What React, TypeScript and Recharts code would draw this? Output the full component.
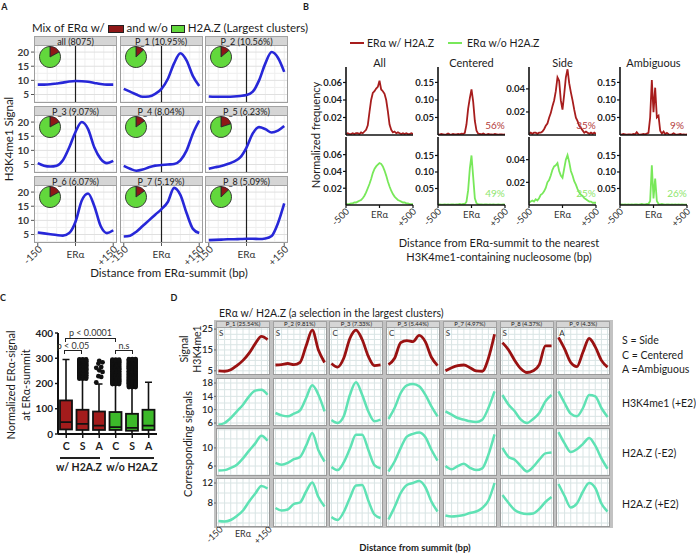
import React from "react";
import {
  LineChart, Line, XAxis, YAxis, CartesianGrid, ReferenceLine,
  PieChart, Pie, ComposedChart, Bar, ScatterChart, Scatter,
} from "recharts";

const FONT = "Lato, 'Open Sans', sans-serif";
const INK = "#1c1c1c";

// ---------- panel A : H3K4me1 profiles per cluster ----------
const facetX = [-150, -125, -100, -75, -50, -25, 0, 25, 50, 75, 100, 125, 150];
const aTitles = ["all (8075)", "P_1 (10.95%)", "P_2 (10.56%)", "P_3 (9.07%)", "P_4 (8.04%)", "P_5 (6.23%)", "P_6 (6.07%)", "P_7 (5.19%)", "P_8 (5.09%)"];
const aRedShare = [0.17, 0.13, 0.14, 0.17, 0.15, 0.2, 0.17, 0.15, 0.13];
const aCurves = [
  [8.5, 8.5, 8.6, 8.9, 9.2, 9.6, 9.8, 9.7, 9.5, 9.1, 8.7, 8.5, 8.5],
  [7, 6, 5, 4.2, 4.3, 5.2, 7, 10.5, 16, 19.6, 17, 11.5, 8],
  [4.3, 4.2, 4.2, 4.2, 4.3, 4.5, 4.8, 6, 10, 16, 20, 18, 13],
  [5.5, 4.6, 4.3, 4.6, 6.5, 11, 16.5, 20, 17.5, 11, 7, 5.5, 6.3],
  [4.5, 3.5, 2.8, 3.2, 4, 4.6, 4.8, 5, 5.2, 6.5, 10, 16, 20.5],
  [3.5, 4, 4.5, 5.2, 6, 7.5, 11, 16, 18.2, 17.5, 16.3, 17, 18.6],
  [5.7, 5.4, 5.1, 4.8, 4.6, 5.5, 9.5, 17, 19.5, 15, 8, 5.5, 6.5],
  [4.3, 4.6, 6, 8, 10, 12, 14, 16.5, 21.5, 19, 12.5, 7, 5.5],
  [3.0, 3.1, 3.2, 3.3, 3.3, 3.4, 3.5, 3.5, 3.4, 3.6, 4.5, 9, 16],
];
const aXTicks = [-150, 0, 150];
const aXTickText = ["-150", "ERα", "+150"];
const aYTicks = [5, 10, 15, 20];
const aGridYMinor = [2.5, 7.5, 12.5, 17.5, 22.5];
const aGridX = [-150, -112.5, -75, -37.5, 0, 37.5, 75, 112.5, 150];

// ---------- panel B : distance histograms ----------
const bX = [-500, -475, -450, -425, -400, -375, -350, -325, -300, -275, -250, -225, -200, -175, -150, -125, -100, -75, -50, -25, 0,
  25, 50, 75, 100, 125, 150, 175, 200, 225, 250, 275, 300, 325, 350, 375, 400, 425, 450, 475, 500];
const bTitles = ["All", "Centered", "Side", "Ambiguous"];
const allRed = [0.001, 0.002, 0.001, 0.001, 0.002, 0.001, 0.002, 0.002, 0.001, 0.003, 0.002, 0.004, 0.006, 0.011, 0.026, 0.04, 0.048, 0.05, 0.053, 0.055, 0.062,
  0.052, 0.05, 0.047, 0.04, 0.027, 0.012, 0.006, 0.003, 0.004, 0.002, 0.003, 0.002, 0.001, 0.002, 0.001, 0.002, 0.001, 0.001, 0.002, 0.001];
const allGreen = [0.001, 0.001, 0.001, 0.002, 0.002, 0.003, 0.003, 0.004, 0.005, 0.006, 0.008, 0.011, 0.015, 0.02, 0.025, 0.031, 0.038, 0.043, 0.046, 0.048, 0.05,
  0.049, 0.046, 0.041, 0.035, 0.028, 0.022, 0.017, 0.013, 0.01, 0.008, 0.006, 0.005, 0.004, 0.003, 0.003, 0.002, 0.002, 0.001, 0.001, 0.001];
const cenRed = [0.002, 0.001, 0.003, 0.002, 0.001, 0.002, 0.004, 0.002, 0.001, 0.003, 0.002, 0.002, 0.003, 0.002, 0.004, 0.003, 0.006, 0.03, 0.075, 0.105, 0.13,
  0.095, 0.04, 0.012, 0.004, 0.003, 0.002, 0.004, 0.002, 0.001, 0.003, 0.002, 0.002, 0.001, 0.003, 0.002, 0.001, 0.002, 0.002, 0.001, 0.002];
const cenGreen = [0.001, 0.002, 0.001, 0.001, 0.002, 0.001, 0.002, 0.001, 0.002, 0.002, 0.001, 0.002, 0.002, 0.003, 0.002, 0.003, 0.003, 0.01, 0.045, 0.11, 0.15,
  0.085, 0.02, 0.005, 0.003, 0.002, 0.002, 0.001, 0.002, 0.002, 0.001, 0.002, 0.001, 0.002, 0.001, 0.001, 0.002, 0.001, 0.001, 0.002, 0.001];
const sideRed = [0.001, 0.002, 0.001, 0.002, 0.002, 0.001, 0.002, 0.002, 0.003, 0.005, 0.008, 0.01, 0.015, 0.019, 0.025, 0.03, 0.038, 0.05, 0.047, 0.03, 0.022,
  0.035, 0.05, 0.057, 0.045, 0.037, 0.03, 0.022, 0.015, 0.012, 0.008, 0.006, 0.004, 0.002, 0.003, 0.002, 0.001, 0.002, 0.001, 0.002, 0.001];
const sideGreen = [0.002, 0.003, 0.004, 0.003, 0.005, 0.004, 0.006, 0.009, 0.01, 0.012, 0.015, 0.02, 0.022, 0.026, 0.031, 0.034, 0.035, 0.037, 0.03, 0.026, 0.024,
  0.032, 0.04, 0.044, 0.038, 0.03, 0.026, 0.021, 0.018, 0.014, 0.011, 0.009, 0.008, 0.006, 0.005, 0.004, 0.003, 0.003, 0.002, 0.002, 0.002];
const ambRed = [0.002, 0.001, 0.003, 0.002, 0.001, 0.002, 0.002, 0.001, 0.003, 0.002, 0.008, 0.002, 0.001, 0.002, 0.003, 0.002, 0.004, 0.006, 0.05, 0.157, 0.065,
  0.135, 0.05, 0.055, 0.012, 0.004, 0.01, 0.002, 0.006, 0.002, 0.001, 0.002, 0.005, 0.002, 0.001, 0.002, 0.003, 0.001, 0.002, 0.001, 0.002];
const ambGreen = [0.001, 0.002, 0.001, 0.002, 0.001, 0.002, 0.001, 0.002, 0.001, 0.002, 0.002, 0.001, 0.002, 0.003, 0.002, 0.002, 0.003, 0.003, 0.012, 0.12, 0.02,
  0.08, 0.012, 0.003, 0.002, 0.003, 0.002, 0.001, 0.002, 0.002, 0.001, 0.002, 0.001, 0.002, 0.001, 0.002, 0.001, 0.002, 0.001, 0.001, 0.001];
const bSeries = [[allRed, cenRed, sideRed, ambRed], [allGreen, cenGreen, sideGreen, ambGreen]];
const bYMax = [[0.0777, 0.194, 0.059, 0.194], [0.081, 0.206, 0.06, 0.206]];
const bYTicks = [[0.02, 0.04, 0.06], [0.05, 0.1, 0.15], [0.02, 0.04], [0.05, 0.1, 0.15]];
const bXTicks = [-500, 0, 500];
const bXTickText = ["-500", "ERα", "+500"];
const bShares = [["", "56%", "35%", "9%"], ["", "49%", "25%", "26%"]];

// ---------- panel C : ERα signal box plots ----------
const cCats = ["C", "S", "A", "C", "S", "A"];
const cLo = [0, 0, 0, 0, 0, 0];
const cQ1 = [18, 16, 16, 16, 13, 16];
const cMed = [47, 40, 33, 27, 24, 33];
const cQ3 = [133, 96, 89, 87, 80, 96];
const cHi = [295, 218, 198, 195, 182, 205];
const sRedOut = [219, 223, 226, 231, 233, 238, 241, 244, 247, 251, 254, 256, 260, 263, 267, 270, 272, 276, 279, 282, 285, 288, 290, 293, 295];
const aRedOut = [204, 226, 229, 246, 252, 262, 265, 279, 284, 290];
const cGreenOut = [198, 202, 206, 209, 213, 217, 220, 224, 228, 231, 235, 238, 242, 246, 249, 253, 256, 260, 263, 267, 270, 274, 277, 281, 284, 288, 291, 294];
const sGreenOut = [186, 190, 194, 198, 201, 205, 209, 213, 216, 220, 224, 227, 231, 235, 238, 242, 246, 249, 253, 257, 260, 264, 268, 271, 275, 279, 282, 286, 290, 293, 296];
const cOutliers = [[], sRedOut, aRedOut, cGreenOut, sGreenOut, []];
const cDense = [false, true, false, true, true, false];
const cYTicks = [0, 100, 200, 300, 400];

// ---------- panel D : selected clusters ----------
const dX = [-150, -112.5, -75, -37.5, 0, 37.5, 75, 112.5, 150];
const dTitles = ["P_1 (25.54%)", "P_2 (9.81%)", "P_3 (7.33%)", "P_5 (5.44%)", "P_7 (4.97%)", "P_8 (4.37%)", "P_9 (4.3%)"];
const dClass = ["S", "S", "C", "C", "S", "S", "A"];
const dRowNames = ["", "H3K4me1 (+E2)", "H2A.Z (-E2)", "H2A.Z (+E2)"];
const dCurves = [
  [
    [5, 4.8, 5.5, 7.5, 10, 13.5, 18, 21.5, 20],
    [7.8, 8, 8.5, 8, 9, 17, 24.5, 15, 9],
    [8.5, 6.8, 11, 20.5, 24.5, 20, 12, 7.5, 7.8],
    [8, 11, 18.5, 19.5, 19, 22, 19, 11.5, 7.5],
    [5, 6.5, 7.5, 7.8, 6.5, 5, 4.8, 11, 22.5],
    [18.5, 15, 10, 6, 4.2, 5, 8, 17, 17],
    [21, 15.5, 9, 7, 14, 20.5, 16.5, 10, 6.8],
  ],
  [
    [5.5, 6, 7.5, 9.5, 11.5, 14, 15.7, 16, 14.5],
    [9, 8.3, 8, 8.8, 9.8, 13.5, 17.3, 14.5, 9.5],
    [6.9, 6, 8, 14.4, 18.2, 14.5, 9.5, 6.5, 7],
    [7.2, 10.5, 15, 17.3, 17.7, 17, 14.5, 11, 8],
    [9.5, 8.5, 7.5, 7, 6.5, 6.3, 7, 10.5, 15.5],
    [14.4, 11.5, 9.5, 7, 6, 7.2, 9, 12.5, 14.4],
    [15.5, 12, 8.8, 8, 10.5, 14.4, 14, 10.5, 7.8],
  ],
  [
    [5, 5.1, 5.6, 6.3, 7.7, 9.4, 11, 12.7, 11.6],
    [6.7, 6.3, 6.7, 7.5, 8, 10.5, 13.3, 9.5, 7],
    [5.8, 5.1, 6.8, 9.8, 12.9, 12.9, 9.6, 6.2, 5.5],
    [4.8, 7, 10, 12.5, 13.1, 13.4, 12.4, 9.6, 7.2],
    [6, 5.3, 6, 6.5, 5.6, 5.1, 5.5, 8.5, 13],
    [10, 8, 7.4, 6, 4.8, 5.8, 7.4, 8.8, 9],
    [13.5, 11, 9.1, 9.7, 10.9, 12.2, 10.5, 7.7, 5.4],
  ],
  [
    [4.4, 4.3, 4.6, 5.4, 6.5, 8.3, 9.9, 11.4, 10.9],
    [7, 6.5, 6.7, 7.8, 8.1, 10.3, 12.1, 9.2, 7.3],
    [5.2, 4.6, 6.2, 9, 11.5, 11.6, 8.5, 5.7, 5],
    [4.7, 7.2, 10, 11.6, 12, 12.4, 11.2, 8.3, 6.3],
    [5.5, 5.3, 5.4, 5.6, 6, 6.3, 7, 8.5, 12],
    [9.6, 8, 6.6, 6, 5.8, 5.9, 6.8, 8.2, 9.2],
    [11.8, 9.4, 7.1, 7.9, 10.3, 12, 11, 7.9, 6.3],
  ],
];
const dYDomains = [[3, 26], [5.1, 19.5], [3.8, 14.4], [3.2, 13]];
const dYTicks = [[5, 15, 25], [6, 10, 14, 18], [6, 10], [8, 12]];
const dGridY = [[5, 7.5, 10, 12.5, 15, 17.5, 20, 22.5, 25], [6, 8, 10, 12, 14, 16, 18], [4, 6, 8, 10, 12, 14], [4, 6, 8, 10, 12]];

// ---------- colours / layout ----------
const A_BLUE = "#2727d8";
const PIE_RED = "#8e1717";
const PIE_GREEN = "#62d83c";
const B_RED = "#a71d1d";
const B_GREEN = "#78e85a";
const C_RED = "#a31c1c";
const C_GREEN = "#3cb92a";
const D_RED = "#9a1212";
const D_AQUA = "#5fe2b4";

const A_COLS = [34, 119.5, 205];
const A_ROWS = [36, 106, 176];
const A_W = 83, A_H = 58, A_STRIP = 9;
const B_AXIS_X = [346, 438, 529, 620];
const B_TOP = [67, 137];
const B_W = 67, B_H = 68;
const D_COLS = [216, 272.7, 329.4, 386.1, 442.8, 499.5, 556.2];
const D_TOP = [327, 378, 428, 478];
const D_H = [48, 48, 48, 49];
const D_W = 54;

function T({ x, y, s = 11, a = "c", r = 0, c = INK, w = 400, children }: any) {
  const tx = a === "c" ? "-50%" : a === "r" ? "-100%" : "0%";
  return (
    <div style={{ position: "absolute", left: x, top: y, fontSize: s, fontWeight: w, color: c, whiteSpace: "nowrap", lineHeight: 1, transform: `translate(${tx},-50%) rotate(${r}deg)` }}>
      {children}
    </div>
  );
}

// strip label drawn after the panel so the underscore stays visible
function Strip({ x, y, w, h, label, fs }: any) {
  return (
    <>
      <div style={{ position: "absolute", left: x, top: y, width: w, height: h, boxSizing: "border-box", background: "#d5d5d5", border: "1px solid #a2a2a2" }} />
      <div style={{ position: "absolute", left: x, top: y + h / 2 - 0.5, width: w, fontSize: fs, lineHeight: 1, transform: "translateY(-50%)", textAlign: "center", color: "#1a1a1a", whiteSpace: "nowrap", zIndex: 2 }}>
        {label}
      </div>
    </>
  );
}

function SlantTick({ x, y, payload, ticks, texts, fs, dx, dy, cy }: any) {
  const k = ticks.indexOf(payload.value);
  const label = texts[k] ?? "";
  if (payload.value === 0) {
    return <text x={x} y={y + cy} textAnchor="middle" fontSize={fs} fill="#333" fontFamily={FONT}>{label}</text>;
  }
  const ax = x + dx, ay = y + dy;
  return <text x={ax} y={ay} textAnchor="end" fontSize={fs} fill="#333" fontFamily={FONT} transform={`rotate(-45 ${ax} ${ay})`}>{label}</text>;
}

function FacetA({ i }: { i: number }) {
  const col = i % 3, row = Math.floor(i / 3);
  const left = A_COLS[col], top = A_ROWS[row] + A_STRIP;
  const yW = col === 0 ? 24 : 0;
  const xH = row === 2 ? 34 : 0;
  const data = facetX.map((x, k) => ({ x, v: aCurves[i][k] }));
  const share = aRedShare[i];
  return (
    <>
      <div style={{ position: "absolute", left: left - yW, top }}>
        <LineChart width={A_W + yW} height={A_H + xH} data={data} margin={{ top: 0, right: 0, bottom: 0, left: 0 }}>
          <CartesianGrid horizontalValues={aGridYMinor} verticalValues={aGridX} stroke="#efefef" />
          <CartesianGrid horizontalValues={aYTicks} vertical={false} stroke="#e0e0e0" />
          <XAxis dataKey="x" type="number" domain={[-165, 165]} ticks={aXTicks} interval={0} hide={row !== 2} height={xH}
            axisLine={false} tickLine={{ stroke: "#555" }} tickSize={3} allowDataOverflow
            tick={(p: any) => <SlantTick {...p} ticks={aXTicks} texts={aXTickText} fs={10} dx={5} dy={2} cy={10} />} />
          <YAxis type="number" domain={[2, 22.5]} ticks={aYTicks} interval={0} hide={col !== 0} width={yW} axisLine={false}
            tickLine={{ stroke: "#555" }} tickSize={3} tickMargin={2} allowDataOverflow
            tick={{ fontSize: 10, fill: "#3a3a3a", fontWeight: 700, fontFamily: FONT }} />
          <ReferenceLine x={0} stroke="#1e1e1e" strokeWidth={1.2} />
          <Line dataKey="v" type="monotone" stroke={A_BLUE} strokeWidth={2.6} dot={false} isAnimationActive={false} />
        </LineChart>
      </div>
      <div style={{ position: "absolute", left, top, width: A_W, height: A_H, boxSizing: "border-box", border: "1px solid #9e9e9e" }} />
      <Strip x={left} y={A_ROWS[row]} w={A_W} h={A_STRIP + 1} label={aTitles[i]} fs={9} />
      <div style={{ position: "absolute", left: left + 4, top }}>
        <PieChart width={24} height={24} margin={{ top: 0, right: 0, bottom: 0, left: 0 }}>
          <Pie data={[{ v: share, fill: PIE_RED }, { v: 1 - share, fill: PIE_GREEN }]} dataKey="v" cx={12} cy={12}
            outerRadius={10.5} startAngle={90} endAngle={-270} stroke="#2a2a2a" strokeWidth={0.9} isAnimationActive={false} />
        </PieChart>
      </div>
    </>
  );
}

function HistB({ col, row }: { col: number; row: number }) {
  const ax = B_AXIS_X[col], top = B_TOP[row];
  const yW = 30, xH = row === 1 ? 30 : 4;
  const series = bSeries[row][col];
  const data = bX.map((x, k) => ({ x, v: series[k] }));
  return (
    <div style={{ position: "absolute", left: ax - yW, top }}>
      <LineChart width={yW + B_W + 2} height={B_H + xH} data={data} margin={{ top: 0, right: 2, bottom: 0, left: 0 }}>
        <XAxis dataKey="x" type="number" domain={[-500, 500]} ticks={bXTicks} interval={0} height={xH} allowDataOverflow
          axisLine={{ stroke: "#111", strokeWidth: 1.6 }} tickLine={{ stroke: "#111", strokeWidth: 1.2 }} tickSize={3}
          tick={row === 1 ? (p: any) => <SlantTick {...p} ticks={bXTicks} texts={bXTickText} fs={9.5} dx={4} dy={2} cy={8} /> : false} />
        <YAxis type="number" domain={[0, bYMax[row][col]]} ticks={bYTicks[col]} interval={0} width={yW} allowDataOverflow
          axisLine={{ stroke: "#111", strokeWidth: 1.6 }} tickLine={{ stroke: "#111", strokeWidth: 1.2 }} tickSize={3} tickMargin={1}
          tick={{ fontSize: 9.5, fontWeight: 700, fill: "#222", fontFamily: FONT }} tickFormatter={(v: number) => v.toFixed(2)} />
        <Line dataKey="v" type="linear" stroke={row === 0 ? B_RED : B_GREEN} strokeWidth={1.8} dot={false} isAnimationActive={false} />
      </LineChart>
    </div>
  );
}

function BoxShape(props: any) {
  const { x, y, width, height } = props;
  const i = props.payload?.k ?? props.index;
  const lo = cLo[i], hi = cHi[i];
  const y0 = Math.min(y, y + height), h = Math.abs(height);
  const py = (v: number) => y0 + ((hi - v) / (hi - lo)) * h;
  const cx = x + width / 2;
  const fill = i < 3 ? C_RED : C_GREEN;
  return (
    <g>
      <line x1={cx} x2={cx} y1={py(hi)} y2={py(lo)} stroke="#111" strokeWidth={1.6} />
      <line x1={cx - 3.5} x2={cx + 3.5} y1={py(hi)} y2={py(hi)} stroke="#111" strokeWidth={1.6} />
      <line x1={cx - 3.5} x2={cx + 3.5} y1={py(lo)} y2={py(lo)} stroke="#111" strokeWidth={1.6} />
      <rect x={x} y={py(cQ3[i])} width={width} height={py(cQ1[i]) - py(cQ3[i])} fill={fill} stroke="#111" strokeWidth={1.8} />
      <line x1={x} x2={x + width} y1={py(cMed[i])} y2={py(cMed[i])} stroke="#111" strokeWidth={1.8} />
    </g>
  );
}

const DENSE_DX = [-0.2, 0, 0.2];
const SPARSE_DX = [-0.18, 0.12, -0.05, 0.2, 0];

function BoxC() {
  const data = cCats.map((c, k) => ({ k, cat: c, range: [cLo[k], cHi[k]] }));
  const pts = cOutliers.flatMap((vals, g) =>
    cDense[g]
      ? vals.flatMap((v) => DENSE_DX.map((d) => ({ x: g + 0.5 + d, y: v })))
      : vals.map((v, k) => ({ x: g + 0.5 + SPARSE_DX[k % SPARSE_DX.length], y: v })));
  const W = 132, H = 130;
  return (
    <>
      <div style={{ position: "absolute", left: 28, top: 328 }}>
        <ComposedChart width={W} height={H} data={data} margin={{ top: 5, right: 3, bottom: 0, left: 0 }}>
          <XAxis dataKey="k" type="category" height={24} interval={0} tickFormatter={(v: number) => cCats[v]}
            axisLine={{ stroke: "#111", strokeWidth: 2 }} tickLine={{ stroke: "#111", strokeWidth: 1.4 }} tickSize={4} tickMargin={5}
            tick={{ fontSize: 10.5, fontWeight: 700, fill: "#222", fontFamily: FONT }} />
          <YAxis type="number" domain={[0, 400]} ticks={cYTicks} interval={0} width={30} allowDataOverflow
            axisLine={{ stroke: "#111", strokeWidth: 2 }} tickLine={{ stroke: "#111", strokeWidth: 1.4 }} tickSize={3} tickMargin={2}
            tick={{ fontSize: 10, fontWeight: 700, fill: "#222", fontFamily: FONT }} />
          <Bar dataKey="range" barSize={12} shape={BoxShape} isAnimationActive={false} />
        </ComposedChart>
      </div>
      <div style={{ position: "absolute", left: 28, top: 328 }}>
        <ScatterChart width={W} height={H} margin={{ top: 5, right: 3, bottom: 24, left: 30 }}>
          <XAxis type="number" dataKey="x" domain={[0, 6]} hide />
          <YAxis type="number" dataKey="y" domain={[0, 400]} hide />
          <Scatter data={pts} isAnimationActive={false}
            shape={(p: any) => <circle cx={p.cx} cy={p.cy} r={2.4} fill="#111" />} />
        </ScatterChart>
      </div>
    </>
  );
}

function Bracket({ x1, x2, y, label, ty }: any) {
  return (
    <>
      <div style={{ position: "absolute", left: x1, top: y, width: x2 - x1, height: 4, boxSizing: "border-box", borderTop: "1.2px solid #222", borderLeft: "1.2px solid #222", borderRight: "1.2px solid #222" }} />
      <T x={(x1 + x2) / 2} y={ty} s={9} c="#333">{label}</T>
    </>
  );
}

function FacetD({ row, col }: { row: number; col: number }) {
  const left = D_COLS[col], top = D_TOP[row], h = D_H[row];
  const yW = col === 0 ? 16 : 0;
  const xH = row === 3 && col === 0 ? 22 : 0;
  const data = dX.map((x, k) => ({ x, v: dCurves[row][col][k] }));
  return (
    <>
      <div style={{ position: "absolute", left, top, width: D_W, height: h, background: "#fff" }} />
      <div style={{ position: "absolute", left: left - yW, top }}>
        <LineChart width={D_W + yW} height={h + xH} data={data} margin={{ top: 0, right: 0, bottom: 0, left: 0 }}>
          <CartesianGrid horizontalValues={dGridY[row]} verticalValues={dX} stroke="#d9e4e4" />
          <XAxis dataKey="x" type="number" domain={[-165, 165]} ticks={aXTicks} interval={0} hide={xH === 0} height={xH}
            axisLine={false} tickLine={false} tickSize={2} allowDataOverflow
            tick={(p: any) => <SlantTick {...p} ticks={aXTicks} texts={aXTickText} fs={9} dx={5} dy={-1} cy={6} />} />
          <YAxis type="number" domain={dYDomains[row]} ticks={dYTicks[row]} interval={0} hide={col !== 0} width={yW} axisLine={false}
            tickLine={{ stroke: "#666" }} tickSize={2} tickMargin={1} allowDataOverflow
            tick={{ fontSize: 9.5, fill: "#2a2a2a", fontWeight: 600, fontFamily: FONT }} />
          <Line dataKey="v" type="monotone" stroke={row === 0 ? D_RED : D_AQUA} strokeWidth={row === 0 ? 2.8 : 2.5} dot={false} isAnimationActive={false} />
        </LineChart>
      </div>
      <div style={{ position: "absolute", left, top, width: D_W, height: h, boxSizing: "border-box", border: "1px solid #9a9a9a" }} />
      {row === 0 && <T x={left + 3} y={top + 6} s={8} a="l" c="#333">{dClass[col]}</T>}
    </>
  );
}

export default function App() {
  return (
    <div style={{ position: "absolute", left: 0, top: 0, width: 696, height: 553, background: "#fff", fontFamily: FONT, color: INK, overflow: "hidden" }}>
      <style>{".recharts-surface{overflow:visible}.recharts-wrapper{overflow:visible}"}</style>
      {/* ---------- A ---------- */}
      <T x={4.5} y={6} s={9} w={700}>A</T>
      <div style={{ position: "absolute", left: 32, top: 21, fontSize: 11.5, whiteSpace: "nowrap", lineHeight: "13px" }}>
        Mix of ERα w/{" "}
        <span style={{ display: "inline-block", width: 14, height: 6, background: PIE_RED, border: "1px solid #222", verticalAlign: "middle" }} />
        {" "}and w/o{" "}
        <span style={{ display: "inline-block", width: 12, height: 6, background: PIE_GREEN, border: "1px solid #222", verticalAlign: "middle" }} />
        {" "}H2A.Z (Largest clusters)
      </div>
      {aTitles.map((_, i) => <FacetA key={i} i={i} />)}
      <T x={9} y={139} s={11.5} r={-90}>H3K4me1 Signal</T>
      <T x={169} y={273} s={11.5}>Distance from ERα-summit (bp)</T>

      {/* ---------- B ---------- */}
      <T x={306} y={6} s={9} w={700}>B</T>
      <div style={{ position: "absolute", left: 350, top: 42, width: 14, height: 2, background: B_RED }} />
      <T x={367} y={43} s={10.5} a="l">ERα w/ H2A.Z</T>
      <div style={{ position: "absolute", left: 448, top: 42, width: 14, height: 2, background: B_GREEN }} />
      <T x={467} y={43} s={10.5} a="l">ERα w/o H2A.Z</T>
      {bTitles.map((t, c) => <T key={t} x={B_AXIS_X[c] + B_W / 2} y={62} s={11}>{t}</T>)}
      {[0, 1].map((r) => [0, 1, 2, 3].map((c) => <HistB key={`${r}-${c}`} row={r} col={c} />))}
      {bShares.map((rowVals, r) => rowVals.map((s, c) => s && (
        <T key={`${r}-${c}`} x={B_AXIS_X[c] + 57} y={r === 0 ? 125 : 193} s={10} c={r === 0 ? "#b33b3b" : "#8ee66c"}>{s}</T>
      )))}
      <T x={315} y={135} s={11} r={-90}>Normalized frequency</T>
      <T x={499} y={242} s={11}>Distance from ERα-summit to the nearest</T>
      <T x={499} y={256} s={11}>H3K4me1-containing nucleosome (bp)</T>

      {/* ---------- C ---------- */}
      <T x={3} y={297} s={9} w={700}>C</T>
      <BoxC />
      <Bracket x1={65} x2={116} y={338} ty={332} label="p < 0.0001" />
      <Bracket x1={64} x2={82} y={350} ty={345} label="p < 0.05" />
      <Bracket x1={115} x2={133} y={350} ty={345} label="n.s" />
      <div style={{ position: "absolute", left: 60, top: 457, width: 40, height: 1.5, background: "#222" }} />
      <div style={{ position: "absolute", left: 110, top: 457, width: 44, height: 1.5, background: "#222" }} />
      <T x={79} y={467} s={10.5} w={700}>w/ H2A.Z</T>
      <T x={132} y={467} s={10.5} w={700}>w/o H2A.Z</T>
      <T x={10} y={385} s={11} r={-90}>Normalized ERα-signal</T>
      <T x={25} y={385} s={11} r={-90}>at ERα-summit</T>

      {/* ---------- D ---------- */}
      <T x={174} y={297} s={9} w={700}>D</T>
      <T x={219} y={313} s={10.5} a="l">ERα w/ H2A.Z (a selection in the largest clusters)</T>
      <div style={{ position: "absolute", left: 214, top: 320, width: 399, height: 208, background: "#c2c2c2" }} />
      {[0, 1, 2, 3].map((r) => dTitles.map((_, c) => <FacetD key={`${r}-${c}`} row={r} col={c} />))}
      {dTitles.map((t, c) => <Strip key={t} x={D_COLS[c]} y={320.5} w={D_W} h={7} label={t} fs={6} />)}
      <T x={184} y={349} s={10.5} r={-90}>Signal</T>
      <T x={197} y={349} s={10.5} r={-90}>H3K4me1</T>
      <T x={187} y={444} s={11} r={-90}>Corresponding signals</T>
      <T x={622} y={340} s={10.5} a="l">S = Side</T>
      <T x={622} y={355} s={10.5} a="l">C = Centered</T>
      <T x={622} y={369} s={10.5} a="l">A =Ambiguous</T>
      {dRowNames.map((n, r) => n && <T key={n} x={622} y={D_TOP[r] + D_H[r] / 2 + 1} s={10.5} a="l">{n}</T>)}
      <T x={415} y={548} s={9.5} w={700}>Distance from summit (bp)</T>
    </div>
  );
}
